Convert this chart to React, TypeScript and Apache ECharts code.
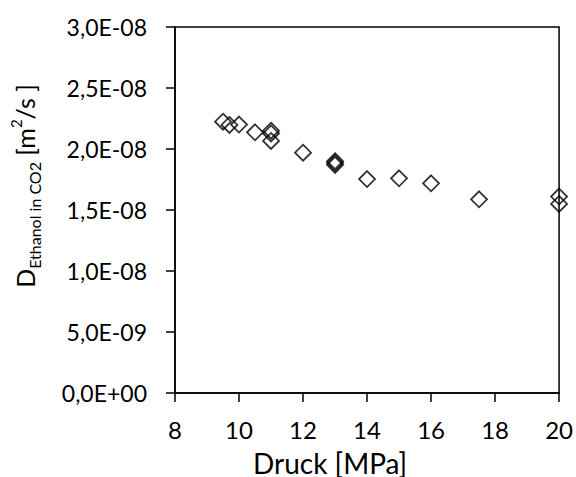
import React, { useEffect, useRef } from "react";
import * as echarts from "echarts";

const pressure = [9.5, 9.7, 10.0, 10.5, 11.0, 11.0, 11.0, 12.0, 13.0, 13.0, 13.0, 14.0, 15.0, 16.0, 17.5, 20.0, 20.0];
const diffusion = [2.224e-8, 2.197e-8, 2.2e-8, 2.137e-8, 2.15e-8, 2.128e-8, 2.066e-8, 1.97e-8, 1.9e-8, 1.885e-8, 1.87e-8, 1.754e-8, 1.76e-8, 1.719e-8, 1.588e-8, 1.61e-8, 1.55e-8];

const xTitle = "Druck [MPa]";

function fmtExp(v: number): string {
  if (v === 0) return "0,0E+00";
  const s = v.toExponential(1);
  const [m, e] = s.split("e");
  const n = parseInt(e, 10);
  const sign = n < 0 ? "-" : "+";
  const abs = Math.abs(n).toString().padStart(2, "0");
  return m.replace(".", ",") + "E" + sign + abs;
}

export default function App() {
  const ref = useRef<HTMLDivElement>(null);
  useEffect(() => {
    if (!ref.current) return;
    const chart = echarts.init(ref.current, undefined, { renderer: "svg" });
    const font = "Lato";
    chart.setOption({
      animation: false,
      textStyle: { fontFamily: font },
      grid: { left: 175, top: 27, right: 16, bottom: 84, show: true, borderColor: "#000", borderWidth: 1.5, backgroundColor: "transparent" },
      xAxis: {
        type: "value",
        min: 8,
        max: 20,
        interval: 2,
        axisLine: { show: true, onZero: false, lineStyle: { color: "#000", width: 1.5 } },
        axisTick: { show: true, inside: false, length: 9, lineStyle: { color: "#000", width: 1.5 } },
        axisLabel: { color: "#000", fontSize: 24, fontFamily: font, margin: 24 },
        splitLine: { show: false },
      },
      yAxis: {
        type: "value",
        min: 0,
        max: 3e-8,
        interval: 5e-9,
        axisLine: { show: true, lineStyle: { color: "#000", width: 1.5 } },
        axisTick: { show: true, inside: false, length: 9, lineStyle: { color: "#000", width: 1.5 } },
        axisLabel: { color: "#000", fontSize: 23, fontFamily: font, margin: 28, formatter: (v: number) => fmtExp(v) },
        splitLine: { show: false },
      },
      graphic: [
        {
          type: "text",
          left: 253,
          top: 449,
          style: { text: xTitle, fontSize: 28, fontFamily: font, fill: "#000" },
        },
        {
          type: "text",
          x: 25,
          y: 186,
          rotation: Math.PI / 2,
          style: {
            text: "{d|D}{sub|Ethanol in CO2}{d| [m}{sup|2}{d|/s ]}",
            align: "center",
            verticalAlign: "middle",
            fill: "#000",
            fontFamily: font,
            rich: {
              d: { fontSize: 25, fontFamily: font, fill: "#000", lineHeight: 34, verticalAlign: "middle" },
              sub: { fontSize: 16, fontFamily: font, fill: "#000", lineHeight: 34, verticalAlign: "bottom", padding: [10, 0, 0, 0] },
              sup: { fontSize: 15, fontFamily: font, fill: "#000", lineHeight: 34, verticalAlign: "top", padding: [0, 0, 12, 0] },
            },
          },
        },
      ],
      series: [
        {
          type: "scatter",
          data: pressure.map((p, i) => [p, diffusion[i]]),
          symbol: "diamond",
          symbolSize: 16,
          itemStyle: { color: "none", borderColor: "#000", borderWidth: 1.8 },
        },
      ],
    });
    return () => chart.dispose();
  }, []);
  return <div ref={ref} style={{ width: 576, height: 477, position: "absolute", left: 0, top: 0 }} />;
}
